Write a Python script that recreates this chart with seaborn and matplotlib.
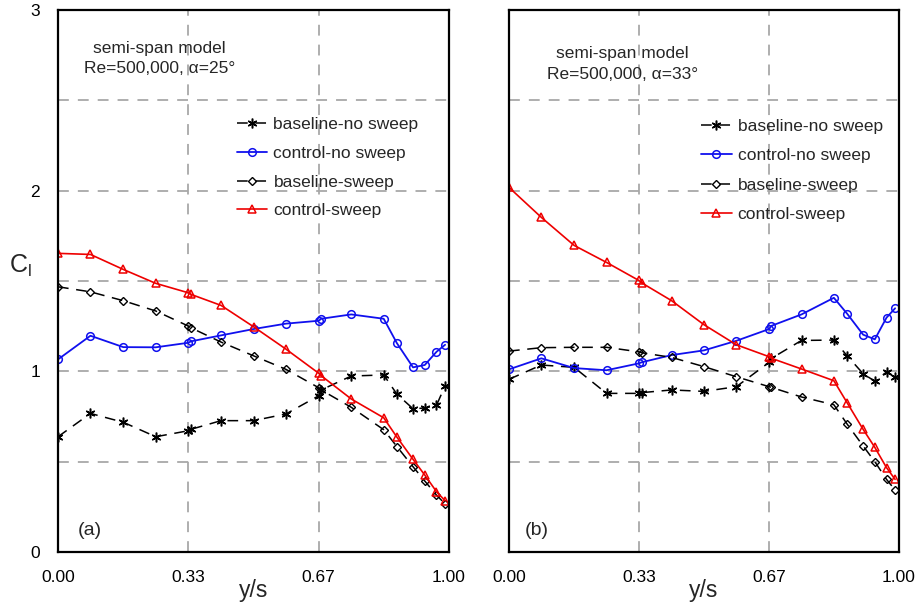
import numpy as np
import pandas as pd
import matplotlib
matplotlib.use("Agg")
import matplotlib.pyplot as plt
import seaborn as sns

# ---- data ----
ys = [0.0, 0.083, 0.167, 0.25, 0.333, 0.34, 0.417, 0.5, 0.583, 0.667, 0.673,
      0.75, 0.833, 0.867, 0.908, 0.938, 0.968, 0.99]

a25_control_sweep = [1.653, 1.647, 1.564, 1.487, 1.435, 1.426, 1.365, 1.247, 1.123, 0.989, 0.976,
                     0.847, 0.743, 0.635, 0.513, 0.426, 0.334, 0.284]
a25_control_nosweep = [1.066, 1.197, 1.134, 1.133, 1.158, 1.166, 1.199, 1.234, 1.264, 1.280, 1.291,
                       1.315, 1.291, 1.155, 1.022, 1.035, 1.108, 1.147]
a25_baseline_sweep = [1.468, 1.440, 1.391, 1.334, 1.251, 1.241, 1.162, 1.086, 1.011, 0.909, 0.897,
                      0.801, 0.677, 0.583, 0.472, 0.393, 0.315, 0.266]
a25_baseline_nosweep = [0.638, 0.767, 0.718, 0.638, 0.671, 0.679, 0.727, 0.727, 0.764, 0.865, 0.897,
                        0.974, 0.980, 0.873, 0.793, 0.797, 0.812, 0.920]

a33_control_sweep = [2.018, 1.852, 1.697, 1.603, 1.503, 1.490, 1.391, 1.258, 1.147, 1.081, 1.072,
                     1.013, 0.948, 0.826, 0.679, 0.579, 0.467, 0.402]
a33_control_nosweep = [1.011, 1.072, 1.018, 1.006, 1.044, 1.050, 1.090, 1.116, 1.169, 1.234, 1.252,
                       1.315, 1.407, 1.319, 1.203, 1.177, 1.297, 1.349]
a33_baseline_sweep = [1.112, 1.131, 1.133, 1.133, 1.108, 1.103, 1.077, 1.026, 0.970, 0.915, 0.911,
                      0.858, 0.815, 0.708, 0.587, 0.500, 0.402, 0.343]
a33_baseline_nosweep = [0.956, 1.035, 1.022, 0.878, 0.878, 0.882, 0.897, 0.889, 0.915, 1.050, 1.072,
                        1.171, 1.173, 1.086, 0.987, 0.945, 0.996, 0.970]

series_labels = ["baseline-no sweep", "control-no sweep", "baseline-sweep", "control-sweep"]
xtick_vals = [0.0, 1/3, 2/3, 1.0]
xtick_labels = ["0.00", "0.33", "0.67", "1.00"]
ytick_vals = [0, 1, 2, 3]
panel_tags = ["(a)", "(b)"]
panel_titles = ["semi-span model\nRe=500,000, α=25°", "semi-span model\nRe=500,000, α=33°"]

# ---- style ----
sns.set_theme(style="white")
plt.rcParams["font.family"] = ["Liberation Sans", "DejaVu Sans"]
plt.rcParams["mathtext.fontset"] = "custom"
plt.rcParams["mathtext.rm"] = "Liberation Sans"
plt.rcParams["mathtext.it"] = "Liberation Sans"

fig = plt.figure(figsize=(9.17, 6.05), dpi=100)
axL = fig.add_axes([58/917, 1-552/605, 391/917, 542/605])
axR = fig.add_axes([509/917, 1-552/605, 390/917, 542/605])

styles = [
    dict(color="black", mec="black", linestyle=(0, (7, 5)), lw=1.1, marker=(6, 2, 0), ms=7, mew=1.1),
    dict(color="#1010ee", mec="#1010ee", linestyle="-", lw=1.3, marker="o", ms=5.5, mfc="none", mew=1.1),
    dict(color="black", mec="black", linestyle=(0, (7, 5)), lw=1.1, marker="D", ms=3.8, mfc="none", mew=1.0),
    dict(color="#ee0000", mec="#ee0000", linestyle="-", lw=1.2, marker="^", ms=6, mfc="none", mew=1.1),
]

panels = [
    (axL, [a25_baseline_nosweep, a25_control_nosweep, a25_baseline_sweep, a25_control_sweep]),
    (axR, [a33_baseline_nosweep, a33_control_nosweep, a33_baseline_sweep, a33_control_sweep]),
]

for i, (ax, data) in enumerate(panels):
    for vals, lab, st in zip(data, series_labels, styles):
        df = pd.DataFrame({"y/s": ys, "Cl": vals})
        sns.lineplot(data=df, x="y/s", y="Cl", ax=ax, estimator=None, sort=False,
                     label=lab, **st)
    ax.set_xlim(0, 1)
    ax.set_ylim(0, 3)
    ax.set_xticks(xtick_vals)
    ax.set_xticklabels(xtick_labels)
    ax.set_yticks(ytick_vals)
    ax.set_yticks([0.5, 1.5, 2.5], minor=True)
    ax.grid(True, which="both", color="#a8a8a8", linestyle=(0, (6, 5)), lw=1.3)
    ax.set_axisbelow(True)
    for sp in ax.spines.values():
        sp.set_color("black")
        sp.set_linewidth(1.6)
    ax.tick_params(axis="both", which="major", direction="in", length=6, width=1.2,
                   labelsize=12.5, pad=13, color="black", labelcolor="black")
    ax.tick_params(axis="both", which="minor", length=0)
    ax.set_ylabel("")
    ax.set_xlabel("y/s", fontsize=16.5)
    ax.xaxis.set_label_coords(0.5, -0.05)
    ax.xaxis.label.set_va("top")
    ax.text(0.26 if i == 0 else 0.29, 2.73 if i == 0 else 2.70, panel_titles[i],
            ha="center", va="center", fontsize=12.5, linespacing=1.45)
    ax.text(0.05 if i == 0 else 0.04, 0.12, panel_tags[i], ha="left", va="center", fontsize=14)
    leg = ax.legend(loc="upper left",
                    bbox_to_anchor=(0.44, 0.815) if i == 0 else (0.475, 0.812),
                    frameon=False, fontsize=12.5, handlelength=1.75, handletextpad=0.35,
                    labelspacing=0.78 if i == 0 else 0.82, numpoints=1, borderaxespad=0)

axR.set_yticklabels([])

fig.text(20/917, 1-266/605, r"C$_\mathregular{l}$", fontsize=18, ha="center", va="center")

fig.savefig("out.png", dpi=100)
